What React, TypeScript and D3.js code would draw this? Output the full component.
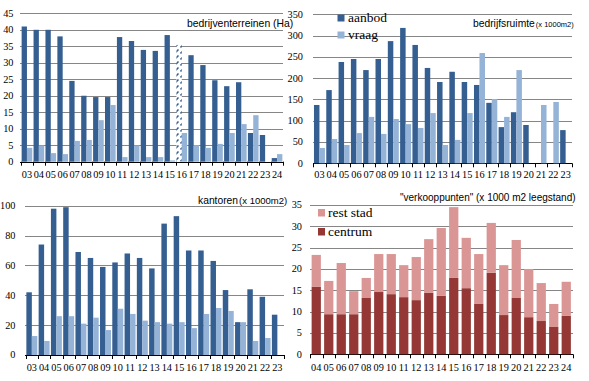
import React from "react";
import * as d3 from "d3";

// ---------- data ----------
const terreinenYears = ["03","04","05","06","07","08","09","10","11","12","13","14","15","16","17","18","19","20","21","22","23","24"];
const terreinenAanbod = [41, 40, 40, 38, 24.5, 20, 19.6, 19.6, 37.8, 36.6, 33.9, 33.6, 38.4, 35.4, 32.3, 29.3, 24.7, 22.9, 24.1, 8.7, 8.1, 1.1];
const terreinenVraag = [4.2, 4.9, 2.6, 2.3, 6.3, 6.6, 12.6, 17.2, 1.4, 4.9, 1.4, 1.4, 0.4, 8.7, 5, 4.2, 5.4, 8.7, 11.4, 14.1, 0, 2.3];
const terreinenHatched = ["16"];
const terreinenTicks = [0, 5, 10, 15, 20, 25, 30, 35, 40, 45];

const ruimteYears = ["03","04","05","06","07","08","09","10","11","12","13","14","15","16","17","18","19","20","21","22","23"];
const ruimteAanbod = [137, 172, 238, 245, 219, 245, 287, 318, 278, 224, 191, 215, 191, 184, 142, 85, 120, 90, 0, 0, 78];
const ruimteVraag = [36, 57, 43, 71, 109, 69, 104, 92, 83, 118, 43, 55, 118, 259, 151, 109, 219, 0, 137, 144, 0];
const ruimteTicks = [0, 50, 100, 150, 200, 250, 300, 350];

const kantorenYears = ["03","04","05","06","07","08","09","10","11","12","13","14","15","16","17","18","19","20","21","22","23"];
const kantorenAanbod = [42, 74, 98, 99, 69, 65, 59, 62, 68, 65, 58, 88, 93, 70, 70, 63, 43.5, 22, 44, 39, 27];
const kantorenVraag = [12.7, 9.4, 26, 26, 21, 25, 16.7, 31, 27.5, 23, 22, 21, 22, 18, 27.5, 31.5, 29.5, 22, 9.4, 11.4, 0];
const kantorenTicks = [0, 20, 40, 60, 80, 100];

const verkoopYears = ["04","05","06","07","08","09","10","11","12","13","14","15","16","17","18","19","20","21","22","23","24"];
const verkoopCentrum = [15.8, 9.4, 9.4, 9.4, 13.2, 14.6, 14.1, 13.4, 12.7, 14.4, 13.7, 17.9, 15.5, 11.8, 19.1, 9.2, 13.2, 8.7, 7.8, 6.4, 9.0];
const verkoopRestStad = [7.5, 7.8, 12.0, 5.4, 4.7, 8.9, 9.4, 7.5, 10.1, 12.6, 15.9, 16.6, 11.8, 11.7, 11.7, 11.7, 13.6, 11.3, 8.9, 5.4, 8.0];
const verkoopTicks = [0, 5, 10, 15, 20, 25, 30, 35];

// ---------- styles ----------
const DARK_BLUE = "#365f91";
const LIGHT_BLUE = "#95b3d7";
const DARK_RED = "#953735";
const PINK = "#d99694";
const GRID = "#868686";
const SERIF = "'Liberation Serif', 'DejaVu Serif', serif";
const SANS = "'Liberation Sans', Arial, sans-serif";

type Frame = { x0: number; x1: number; y0: number; yTop: number; max: number; labelX: number; labelY: number; gridX0: number; gridX1: number };

function Axes({ f, years, ticks, x }: { f: Frame; years: string[]; ticks: number[]; x: d3.ScaleBand<string> }) {
  const y = d3.scaleLinear().domain([0, f.max]).range([f.y0, f.yTop]);
  const bounds = years.map((d) => x(d) as number).concat([f.x1]);
  return (
    <g>
      {ticks.filter((t) => t > 0).map((t) => (
        <line key={"g" + t} x1={f.gridX0} x2={f.gridX1} y1={Math.round(y(t)) + 0.5} y2={Math.round(y(t)) + 0.5} stroke={GRID} strokeWidth={1} />
      ))}
      {ticks.map((t) => (
        <text key={"t" + t} x={f.labelX} y={y(t)} dy="0.33em" textAnchor="end" fontFamily={SERIF} fontSize={10.3} fill="#000">{t}</text>
      ))}
      <line x1={f.gridX0} x2={f.gridX1} y1={Math.round(f.y0) + 0.5} y2={Math.round(f.y0) + 0.5} stroke="#000" strokeWidth={1} />
      {bounds.map((b, i) => (
        <line key={"k" + i} x1={Math.round(b) + 0.5} x2={Math.round(b) + 0.5} y1={f.y0} y2={f.y0 + 4} stroke="#000" strokeWidth={1} />
      ))}
      {years.map((d) => (
        <text key={"l" + d} x={(x(d) as number) + x.bandwidth() / 2} y={f.labelY} textAnchor="middle" fontFamily={SERIF} fontSize={10.3} fill="#000">{d}</text>
      ))}
    </g>
  );
}

function GroupedPanel({ f, years, a, v, ticks, hatched = [] }: { f: Frame; years: string[]; a: number[]; v: number[]; ticks: number[]; hatched?: string[] }) {
  const x = d3.scaleBand<string>().domain(years).range([f.x0, f.x1]).paddingInner(0).paddingOuter(0);
  const sub = d3.scaleBand<string>().domain(["a", "v"]).range([0, x.bandwidth()]).paddingInner(0).paddingOuter(0.12);
  const y = d3.scaleLinear().domain([0, f.max]).range([f.y0, f.yTop]);
  return (
    <g>
      <Axes f={f} years={years} ticks={ticks} x={x} />
      {years.map((d, i) => {
        const bx = x(d) as number;
        const isH = hatched.includes(d);
        return (
          <g key={d}>
            {a[i] > 0 && (
              <rect x={bx + (sub("a") as number)} width={sub.bandwidth()} y={y(a[i])} height={f.y0 - y(a[i])} fill={isH ? "url(#hatch)" : DARK_BLUE} />
            )}
            {v[i] > 0 && (
              <rect x={bx + (sub("v") as number)} width={sub.bandwidth()} y={y(v[i])} height={f.y0 - y(v[i])} fill={LIGHT_BLUE} />
            )}
          </g>
        );
      })}
    </g>
  );
}

function StackedPanel({ f, years, c, r, ticks }: { f: Frame; years: string[]; c: number[]; r: number[]; ticks: number[] }) {
  const x = d3.scaleBand<string>().domain(years).range([f.x0, f.x1]).paddingInner(0).paddingOuter(0);
  const y = d3.scaleLinear().domain([0, f.max]).range([f.y0, f.yTop]);
  const table = years.map((d, i) => ({ year: d, centrum: c[i], rest: r[i] }));
  const stack = d3.stack<any>().keys(["centrum", "rest"])(table);
  const colors: Record<string, string> = { centrum: DARK_RED, rest: PINK };
  const bw = x.bandwidth() * 0.74;
  return (
    <g>
      <Axes f={f} years={years} ticks={ticks} x={x} />
      {stack.map((layer) => (
        <g key={layer.key} fill={colors[layer.key]}>
          {layer.map((s, i) => (
            <rect key={i} x={(x(years[i]) as number) + (x.bandwidth() - bw) / 2} width={bw} y={y(s[1])} height={y(s[0]) - y(s[1])} />
          ))}
        </g>
      ))}
    </g>
  );
}

export default function App() {
  const tl: Frame = { x0: 21, x1: 283, y0: 161.7, yTop: 13.3, max: 45, labelX: 13.5, labelY: 178, gridX0: 20, gridX1: 283 };
  const tr: Frame = { x0: 313.3, x1: 571.8, y0: 163.3, yTop: 14.3, max: 350, labelX: 303, labelY: 178, gridX0: 313, gridX1: 572 };
  const bl: Frame = { x0: 25.7, x1: 283.5, y0: 355, yTop: 205.7, max: 100, labelX: 15.5, labelY: 370.5, gridX0: 25, gridX1: 284 };
  const br: Frame = { x0: 310, x1: 572.5, y0: 354.3, yTop: 205, max: 35, labelX: 302, labelY: 370.5, gridX0: 310, gridX1: 573 };
  return (
    <svg width={589} height={381} style={{ position: "absolute", left: 0, top: 0, background: "#fff" }}>
      <defs>
        <pattern id="hatch" width={6} height={6} patternUnits="userSpaceOnUse">
          <rect width={6} height={6} fill="#fff" />
          <line x1={0.5} y1={5.5} x2={4.5} y2={1.5} stroke={DARK_BLUE} strokeWidth={1.6} />
        </pattern>
      </defs>
      <rect width={589} height={381} fill="#fff" />

      <GroupedPanel f={tl} years={terreinenYears} a={terreinenAanbod} v={terreinenVraag} ticks={terreinenTicks} hatched={terreinenHatched} />
      <text x={187} y={27} fontFamily={SANS} fontSize={10.4} fill="#000">bedrijventerreinen (Ha)</text>

      <GroupedPanel f={tr} years={ruimteYears} a={ruimteAanbod} v={ruimteVraag} ticks={ruimteTicks} />
      <text x={473} y={27} fontFamily={SANS} fontSize={10.3} fill="#000">bedrijfsruimte<tspan fontSize={7.5} dx={1}>(x 1000m2)</tspan></text>
      <rect x={337.5} y={14.5} width={7} height={7} fill={DARK_BLUE} />
      <text x={348} y={22} fontFamily={SERIF} fontSize={13.5} fill="#000">aanbod</text>
      <rect x={337.5} y={31.5} width={7} height={7} fill={LIGHT_BLUE} />
      <text x={348} y={39} fontFamily={SERIF} fontSize={13.5} fill="#000">vraag</text>

      <GroupedPanel f={bl} years={kantorenYears} a={kantorenAanbod} v={kantorenVraag} ticks={kantorenTicks} />
      <text x={198} y={203.5} fontFamily={SANS} fontSize={10.3} fill="#000">kantoren<tspan fontSize={9.5} dx={1}>(x 1000m2)</tspan></text>

      <StackedPanel f={br} years={verkoopYears} c={verkoopCentrum} r={verkoopRestStad} ticks={verkoopTicks} />
      <text x={400} y={201} fontFamily={SANS} fontSize={10} fill="#000">"verkooppunten" (x 1000 m2 leegstand)</text>
      <rect x={318} y={209} width={7} height={7.5} fill={PINK} />
      <text x={328} y={216.5} fontFamily={SERIF} fontSize={13.5} fill="#000">rest stad</text>
      <rect x={318} y={228} width={7} height={7.5} fill={DARK_RED} />
      <text x={328} y={235.5} fontFamily={SERIF} fontSize={13.5} fill="#000">centrum</text>
    </svg>
  );
}
